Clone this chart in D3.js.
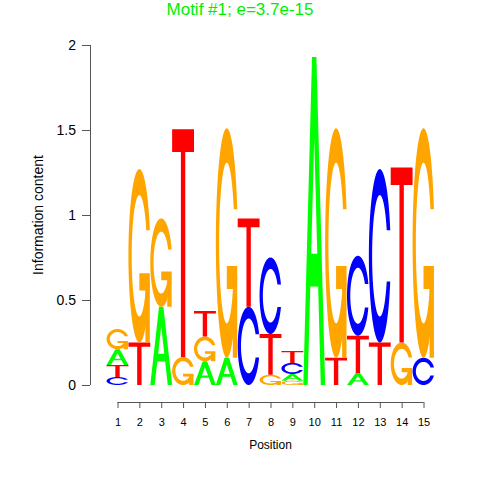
<!DOCTYPE html>
<html>
<head>
<meta charset="utf-8">
<script src="https://cdn.jsdelivr.net/npm/d3@7"></script>
<style>
  body { margin: 0; background: #fff; }
  text { font-family: "Liberation Sans", Arial, sans-serif; }
</style>
</head>
<body>
<svg id="logo" width="480" height="480"></svg>
<script>
// motif data: information content (bits) per base, positions 1..15
var positions = [1, 2, 3, 4, 5, 6, 7, 8, 9, 10, 11, 12, 13, 14, 15]
var bitsA = [0.094, 0, 0.46, 0, 0.14, 0.16, 0, 0, 0.04, 1.93, 0, 0.07, 0, 0, 0]
var bitsC = [0.047, 0, 0, 0, 0, 0, 0.46, 0.45, 0.065, 0, 0, 0.47, 1.02, 0, 0.16]
var bitsG = [0.118, 1.02, 0.52, 0.165, 0.145, 1.35, 0, 0.06, 0.025, 0, 1.35, 0, 0, 0.25, 1.35]
var bitsT = [0.07, 0.25, 0, 1.34, 0.15, 0, 0.52, 0.24, 0.07, 0, 0.16, 0.22, 0.25, 1.03, 0]
var yTicks = [0, 0.5, 1, 1.5, 2]
var title = 'Motif #1; e=3.7e-15'

var colors = { A: '#00ff00', C: '#0000ff', G: '#ffa500', T: '#ff0000' }

var svg = d3.select('#logo')

var x = d3.scaleLinear().domain([1, 15]).range([117.5, 423.5])
var y = d3.scaleLinear().domain([0, 2]).range([385, 45])
var colW = x(2) - x(1)

//
// letter outlines in a unit box (y pointing up), seqLogo style
//
function ringC() {
  var a1 = d3.range(100).map(function(i) { return 0.3 + Math.PI / 2 + i * (Math.PI / 2 - 0.3) / 99 })
  var a2 = d3.range(100).map(function(i) { return Math.PI + i * (Math.PI / 2) / 99 })
  var l1 = a1.map(function(a) { return [0.5 + 0.5 * Math.sin(a), 0.5 + 0.5 * Math.cos(a)] })
  var l2 = a2.map(function(a) { return [0.5 + 0.5 * Math.sin(a), 0.5 + 0.5 * Math.cos(a)] })
  var hmax = d3.max(l1, function(p) { return p[1] })
  var outer = l1.concat(l2)
  var ol = outer.concat(outer.slice().reverse().map(function(p) { return [p[0], 1 - p[1]] }))
  var i1 = a1.map(function(a) { return [0.5 + 0.35 * Math.sin(a), 0.5 + 0.35 * Math.cos(a)] })
    .filter(function(p) { return p[1] <= hmax })
  i1[0] = [i1[0][0], hmax]
  var i2 = a2.map(function(a) { return [0.5 + 0.35 * Math.sin(a), 0.5 + 0.35 * Math.cos(a)] })
  var inner = i1.concat(i2)
  var il = inner.concat(inner.slice().reverse().map(function(p) { return [p[0], 1 - p[1]] }))
  return { ring: ol.concat(il.reverse()), r1: d3.max(l1, function(p) { return p[0] }) }
}
var cShape = ringC()

var shapes = {
  A: [
    { pts: [[0, 0], [4, 10], [6, 10], [10, 0], [8, 0], [6.8, 3], [3.2, 3], [2, 0], [0, 0]]
      .map(function(p) { return [p[0] / 10, p[1] / 10] }), white: false },
    { pts: [[3.6, 4], [5, 7.5], [6.4, 4], [3.6, 4]]
      .map(function(p) { return [p[0] / 10, p[1] / 10] }), white: true }
  ],
  T: [
    { pts: [[0, 10], [10, 10], [10, 9], [6, 9], [6, 0], [4, 0], [4, 9], [0, 9]]
      .map(function(p) { return [p[0] / 10, p[1] / 10] }), white: false }
  ],
  C: [{ pts: cShape.ring, white: false }],
  G: [
    { pts: cShape.ring, white: false },
    { pts: [[cShape.r1, 0.4], [0.5, 0.4], [0.5, 0.3], [cShape.r1 - 0.2, 0.3],
            [cShape.r1 - 0.2, 0], [cShape.r1, 0], [cShape.r1, 0.4]], white: false }
  ]
}

// build stacks, smallest at bottom
var stacks = positions.map(function(p, i) {
  var col = [
    { base: 'A', h: bitsA[i] },
    { base: 'C', h: bitsC[i] },
    { base: 'G', h: bitsG[i] },
    { base: 'T', h: bitsT[i] }
  ].filter(function(d) { return d.h > 0 })
  col.sort(function(a, b) { return a.h - b.h })
  var acc = 0
  col.forEach(function(d) {
    d.pos = p
    d.y0 = acc
    acc += d.h
  })
  return col
})

var polys = []
stacks.flat().forEach(function(d) {
  shapes[d.base].forEach(function(s) {
    polys.push({
      fill: s.white ? '#ffffff' : colors[d.base],
      pts: s.pts.map(function(q) {
        return [x(d.pos) - colW / 2 + colW * q[0], y(d.y0 + d.h * q[1])]
      })
    })
  })
})

svg.append('g').selectAll('path')
  .data(polys)
  .join('path')
  .attr('d', function(d) { return 'M' + d.pts.map(function(q) { return q[0].toFixed(2) + ',' + q[1].toFixed(2) }).join('L') + 'Z' })
  .attr('fill', function(d) { return d.fill })

// y axis
var yAxis = d3.axisLeft(y).tickValues(yTicks).tickSize(8).tickPadding(6)
  .tickFormat(function(d) { return d })
var ya = svg.append('g').attr('transform', 'translate(90,0)').call(yAxis)
ya.select('.domain').attr('d', 'M0.5,' + y(0) + 'V' + y(2)).attr('stroke', '#555')
ya.selectAll('.tick line').attr('stroke', '#555')
ya.selectAll('.tick text').style('font-size', '14px').attr('fill', '#000')

// x axis
var xAxis = d3.axisBottom(x).tickValues(positions).tickSize(6).tickPadding(10)
var xa = svg.append('g').attr('transform', 'translate(0,402)').call(xAxis)
xa.select('.domain').attr('d', 'M' + x(1) + ',0.5H' + x(15)).attr('stroke', '#555')
xa.selectAll('.tick line').attr('stroke', '#555')
xa.selectAll('.tick text').style('font-size', '11px').attr('fill', '#000')

svg.append('text')
  .attr('x', (x(1) + x(15)) / 2)
  .attr('y', 449)
  .attr('text-anchor', 'middle')
  .style('font-size', '12px')
  .text('Position')

svg.append('text')
  .attr('transform', 'translate(43,' + ((y(0) + y(2)) / 2) + ') rotate(-90)')
  .attr('text-anchor', 'middle')
  .style('font-size', '14px')
  .text('Information content')

svg.append('text')
  .attr('x', 240)
  .attr('y', 15)
  .attr('text-anchor', 'middle')
  .attr('fill', '#00ee00')
  .style('font-size', '17px')
  .text(title)
</script>
</body>
</html>
